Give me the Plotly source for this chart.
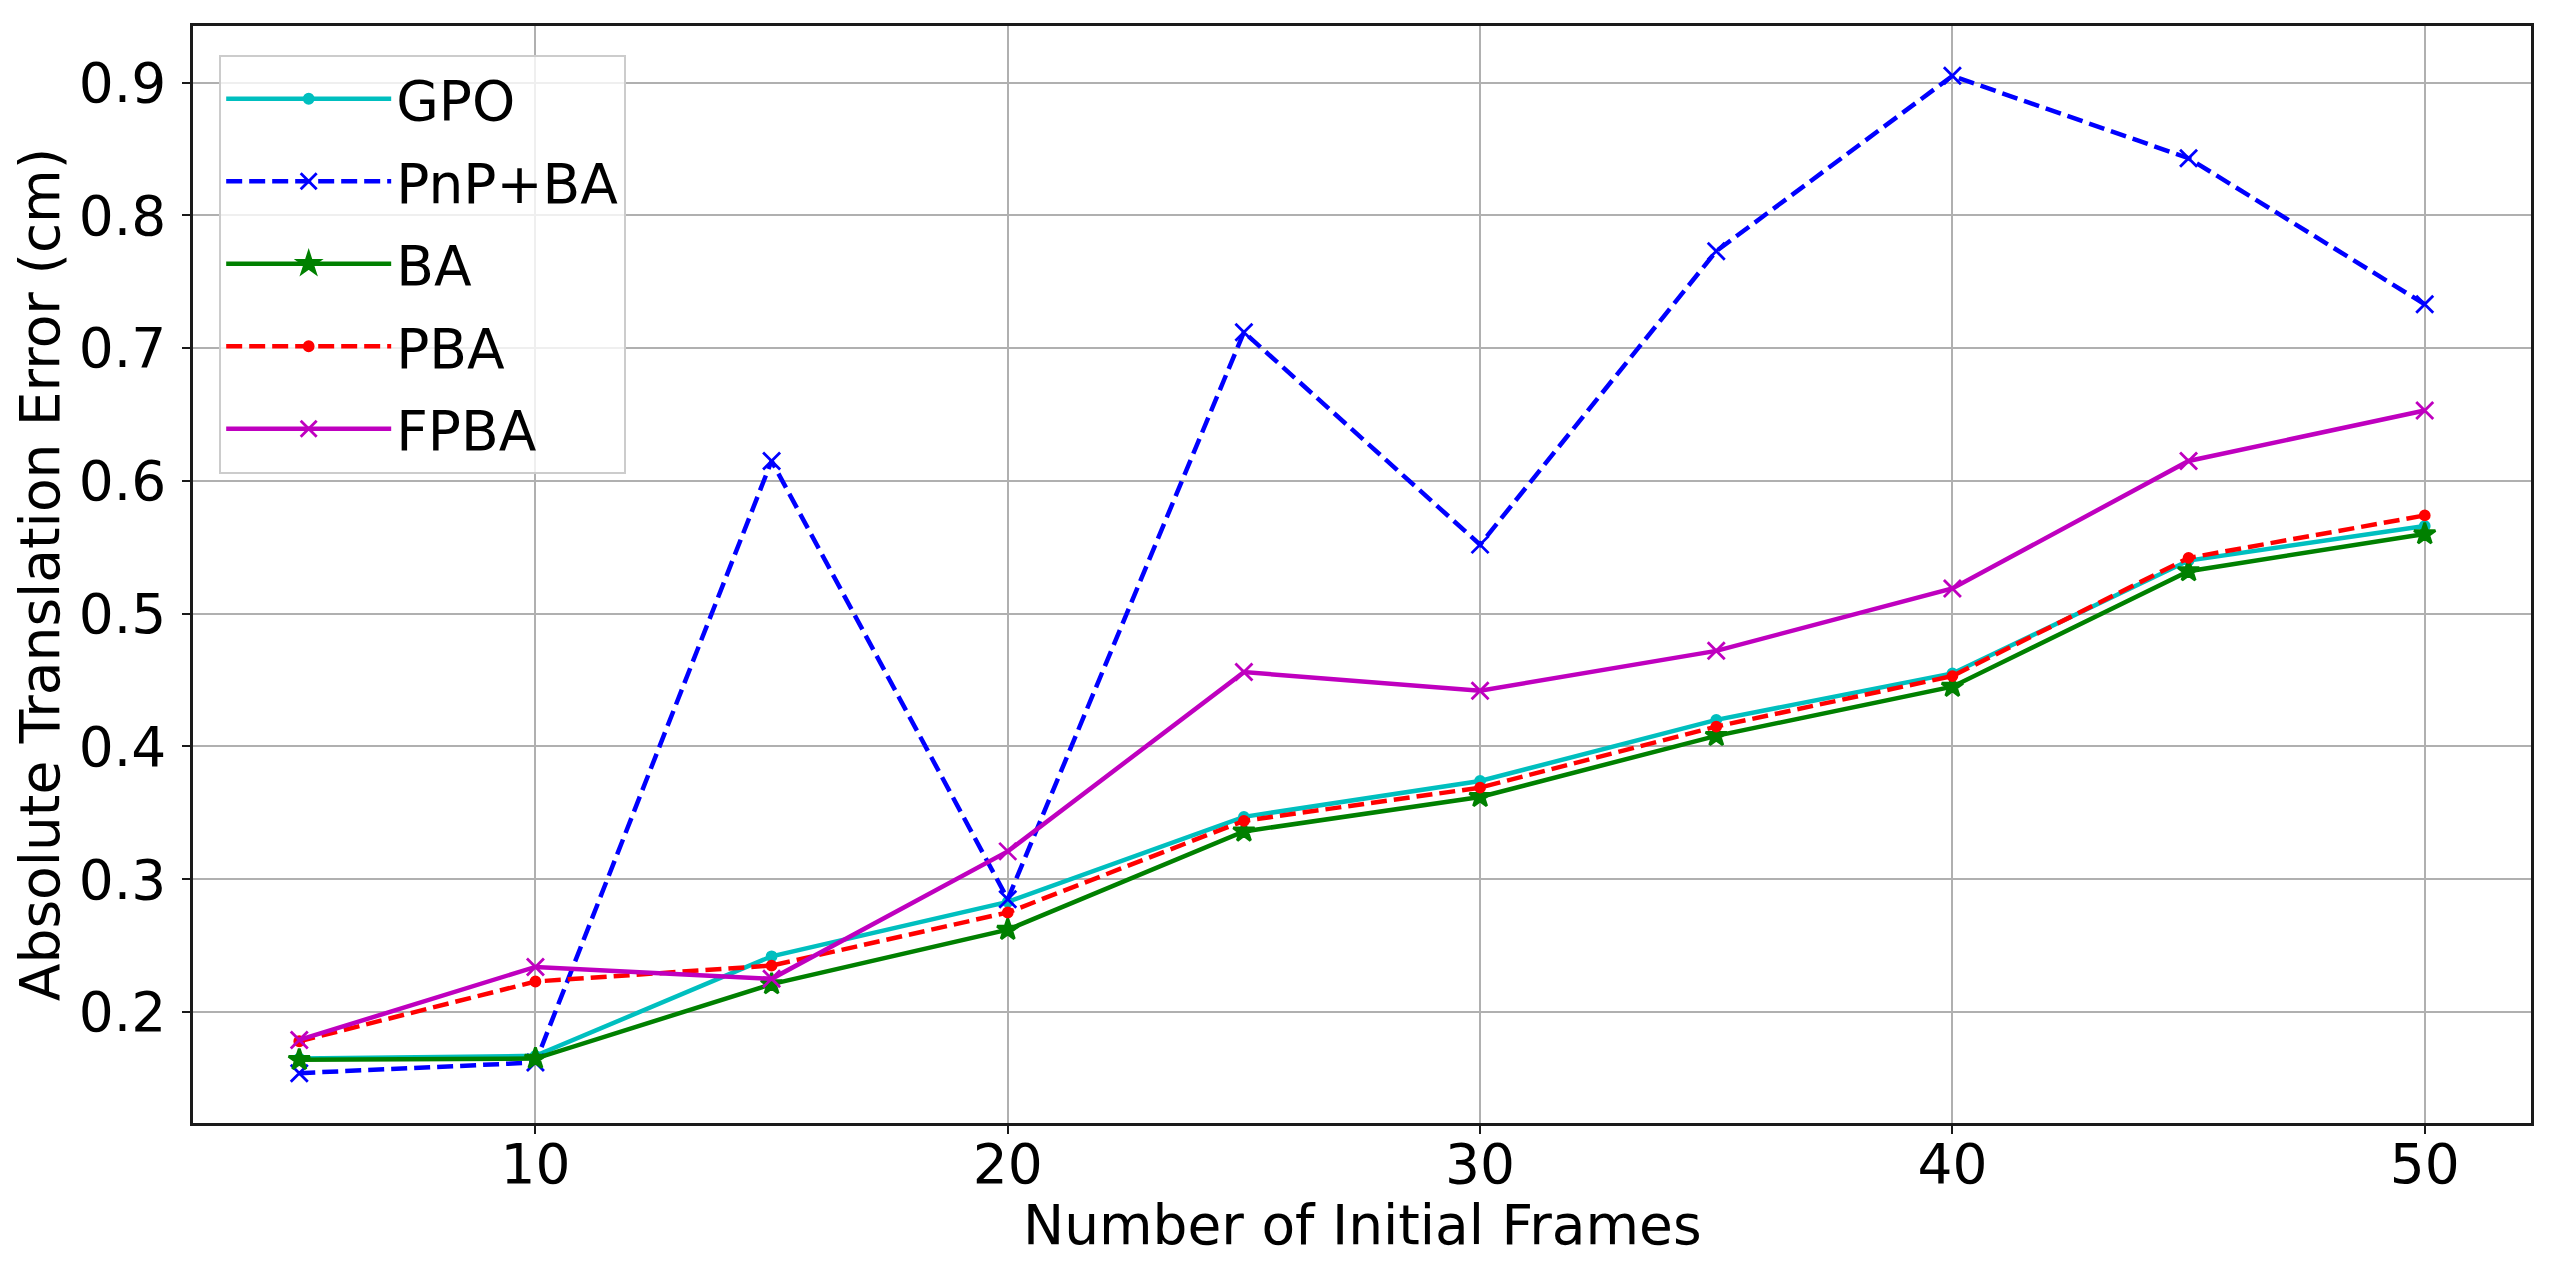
import plotly.graph_objects as go

# number of initial frames
frames = [5, 10, 15, 20, 25, 30, 35, 40, 45, 50]

# absolute translation error (cm) per method
gpo = [0.165, 0.167, 0.242, 0.283, 0.347, 0.374, 0.420, 0.455, 0.540, 0.566]
pnp_ba = [0.154, 0.162, 0.615, 0.285, 0.712, 0.552, 0.773, 0.905, 0.843, 0.733]
ba = [0.164, 0.165, 0.221, 0.262, 0.336, 0.362, 0.408, 0.445, 0.532, 0.560]
pba = [0.178, 0.223, 0.235, 0.275, 0.344, 0.369, 0.415, 0.453, 0.542, 0.574]
fpba = [0.179, 0.234, 0.225, 0.321, 0.456, 0.442, 0.472, 0.519, 0.615, 0.653]

FONT = "DejaVu Sans"
LW = 4.5

series = [
    ("GPO", gpo, "#00bfbf", "solid", "circle", 9),
    ("PnP+BA", pnp_ba, "#0000ff", "16px,7px", "x-thin", 17),
    ("BA", ba, "#008000", "solid", "star", 16),
    ("PBA", pba, "#ff0000", "16px,7px", "circle", 9),
    ("FPBA", fpba, "#bf00bf", "solid", "x-thin", 17),
]

fig = go.Figure()
for name, vals, color, dash, symbol, size in series:
    fig.add_trace(
        go.Scatter(
            x=frames,
            y=vals,
            mode="lines+markers",
            name=name,
            legendgroup=name,
            line=dict(color=color, width=LW, dash=dash),
            marker=dict(symbol=symbol, size=size, color=color,
                        line=dict(color=color, width=2.8)),
        )
    )

# matplotlib-style 5% margins
all_y = gpo + pnp_ba + ba + pba + fpba
ypad = (max(all_y) - min(all_y)) * 0.05
xpad = (max(frames) - min(frames)) * 0.05

axis_common = dict(
    showline=True,
    linecolor="#1a1a1a",
    linewidth=2.5,
    mirror=True,
    ticks="outside",
    ticklen=8,
    tickwidth=2.2,
    tickcolor="#1a1a1a",
    showgrid=True,
    gridcolor="#b0b0b0",
    gridwidth=2.2,
    zeroline=False,
    automargin=False,
    tickfont=dict(family=FONT, size=55, color="black"),
)

# the page body has an 8px margin, so margins are shifted to compensate
fig.update_layout(
    width=2560,
    height=1280,
    paper_bgcolor="white",
    plot_bgcolor="white",
    margin=dict(l=185, r=37, t=18, b=165),
    font=dict(family=FONT, color="black"),
    xaxis=dict(
        axis_common,
        range=[min(frames) - xpad, max(frames) + xpad],
        tickvals=[10, 20, 30, 40, 50],
        ticklabelstandoff=-17,
    ),
    yaxis=dict(
        axis_common,
        range=[min(all_y) - ypad, max(all_y) + ypad],
        tickvals=[0.2, 0.3, 0.4, 0.5, 0.6, 0.7, 0.8, 0.9],
        tickformat=".1f",
        ticklabelstandoff=5,
        title=dict(text="Absolute Translation Error (cm)",
                   font=dict(family=FONT, size=55), standoff=10),
    ),
    legend=dict(
        x=0.0112,
        y=0.974,
        xanchor="left",
        yanchor="top",
        bgcolor="rgba(255,255,255,0.8)",
        bordercolor="#cccccc",
        borderwidth=2,
        font=dict(family=FONT, size=55, color="black"),
        itemwidth=165,
        tracegroupgap=8,
    ),
    showlegend=True,
)

fig.add_annotation(
    text="Number of Initial Frames",
    xref="paper", yref="paper",
    x=0.5, y=-0.093,
    xanchor="center", yanchor="middle",
    showarrow=False,
    font=dict(family=FONT, size=55, color="black"),
)

fig.write_html("out.html")
